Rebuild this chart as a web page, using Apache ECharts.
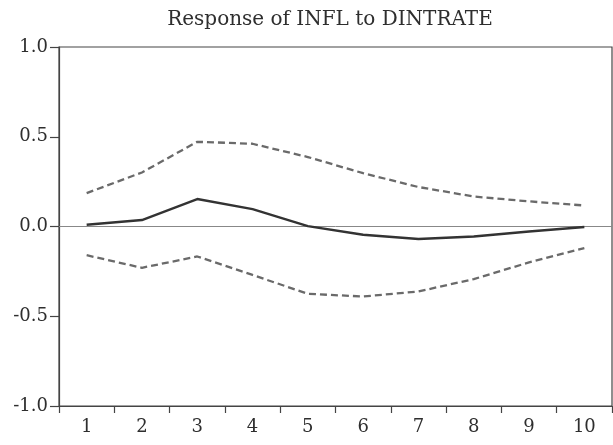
<!DOCTYPE html>
<html><head><meta charset="utf-8">
<script src="https://cdn.jsdelivr.net/npm/echarts@6/dist/echarts.min.js"></script>
<style>html,body{margin:0;padding:0;background:#fff}#c{width:613px;height:445px}</style>
</head><body><div id="c"></div>
<script>
var categories = ['1','2','3','4','5','6','7','8','9','10'];
var response = [0.01, 0.036, 0.153, 0.097, 0.002, -0.046, -0.07, -0.056, -0.028, -0.003];
var upperBand = [0.186, 0.301, 0.472, 0.461, 0.387, 0.297, 0.22, 0.167, 0.14, 0.117];
var lowerBand = [-0.16, -0.23, -0.167, -0.27, -0.375, -0.39, -0.362, -0.293, -0.2, -0.12];
var yTicks = [-1.0, -0.5, 0.0, 0.5, 1.0];
var titleText = 'Response of INFL to DINTRATE';

var font = 'DejaVu Serif';
var chart = echarts.init(document.getElementById('c'), null, {renderer: 'canvas'});
chart.setOption({
  animation: false,
  backgroundColor: '#fff',
  title: {
    text: titleText, left: 325, textAlign: 'center', top: 5,
    textStyle: {fontFamily: font, fontSize: 20, fontWeight: 'normal', color: '#2e2e2e'}
  },
  grid: {left: 59, right: 1, top: 47, bottom: 39, show: true, borderColor: '#444', borderWidth: 1.2, containLabel: false},
  xAxis: {
    type: 'category', data: categories, boundaryGap: true,
    axisLine: {onZero: false, lineStyle: {color: '#444', width: 1.2}},
    axisTick: {show: true, inside: false, length: 7, alignWithLabel: false, lineStyle: {color: '#444', width: 1.2}},
    axisLabel: {fontFamily: font, fontSize: 18, color: '#2e2e2e', margin: 12},
    splitLine: {show: false}
  },
  yAxis: {
    type: 'value', min: yTicks[0], max: yTicks[yTicks.length - 1], interval: 0.5,
    axisLine: {show: true, lineStyle: {color: '#444', width: 1.2}},
    axisTick: {show: true, inside: false, length: 9, lineStyle: {color: '#444', width: 1.2}},
    axisLabel: {fontFamily: font, fontSize: 18, color: '#2e2e2e', margin: 11, formatter: function (v) { return v.toFixed(1); }},
    splitLine: {show: false}
  },
  series: [
    {type: 'line', data: upperBand, symbol: 'none', lineStyle: {color: '#6a6a6a', width: 2.3, type: [7, 4]}, z: 3},
    {type: 'line', data: lowerBand, symbol: 'none', lineStyle: {color: '#6a6a6a', width: 2.3, type: [7, 4]}, z: 3},
    {type: 'line', data: response, symbol: 'none', lineStyle: {color: '#333', width: 2.4}, z: 4,
     markLine: {silent: true, symbol: 'none', label: {show: false}, lineStyle: {color: '#888', width: 1, type: 'solid'}, data: [{yAxis: 0}], z: 2}}
  ]
});
</script></body></html>
